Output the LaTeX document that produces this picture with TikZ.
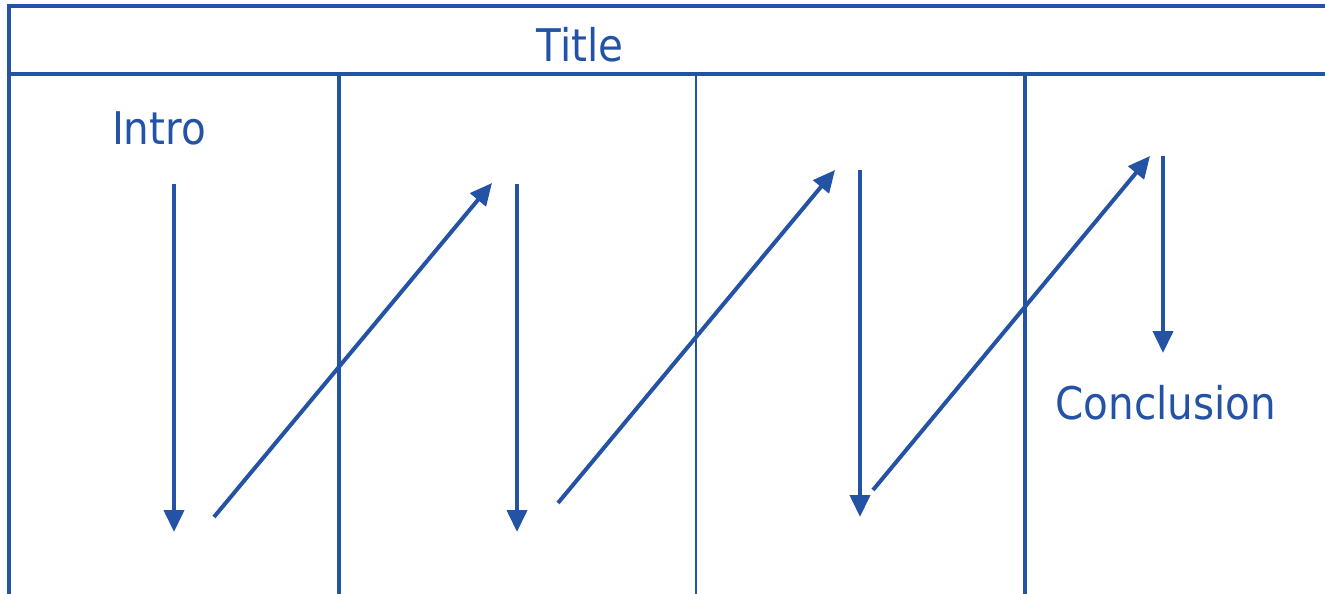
\documentclass[tikz,border=0pt]{standalone}
\usepackage{fontspec}
\setmainfont{DejaVu Sans Condensed}
\usetikzlibrary{arrows.meta}
\definecolor{tblue}{RGB}{36,82,164}
\begin{document}
\begin{tikzpicture}[x=1pt,y=-1pt,
  frame/.style={draw=tblue,line width=4pt},
  divider/.style={draw=tblue,line width=3.5pt},
  thin divider/.style={draw=tblue,line width=2.2pt},
  flow/.style={draw=tblue,line width=4pt,-{Triangle[width=20pt,length=22pt]}},
  label/.style={text=tblue,font=\fontsize{45}{54}\selectfont,inner sep=0pt}]
\useasboundingbox (0,0) rectangle (1325,594);
% frame
\coordinate (tl) at (8.5,6);
\coordinate (tr) at (1325,6);
\coordinate (bl) at (8.5,594);
\coordinate (sl) at (8.5,74);
\coordinate (sr) at (1325,74);
\draw[frame] (bl) -- (tl) -- (tr);
\draw[frame] (sl) -- (sr);
% dividers
\coordinate (d1t) at (339,74); \coordinate (d1b) at (339,594);
\coordinate (d2t) at (696,74); \coordinate (d2b) at (696,594);
\coordinate (d3t) at (1025,74); \coordinate (d3b) at (1025,594);
\draw[divider] (d1t) -- (d1b);
\draw[thin divider] (d2t) -- (d2b);
\draw[divider] (d3t) -- (d3b);
% labels
\node[label] (title) at (580,45) {Title};
\node[label] (intro) at (159,128) {Intro};
\node[label] (concl) at (1166,403) {Conclusion};
% arrows
\coordinate (a1s) at (174,184); \coordinate (a1e) at (174,532);
\coordinate (b1s) at (214,517); \coordinate (b1e) at (492,183);
\coordinate (a2s) at (517,184); \coordinate (a2e) at (517,532);
\coordinate (b2s) at (558,503); \coordinate (b2e) at (835,170);
\coordinate (a3s) at (860,170); \coordinate (a3e) at (860,517);
\coordinate (b3s) at (873,490); \coordinate (b3e) at (1150,156);
\coordinate (a4s) at (1163,156); \coordinate (a4e) at (1163,353);
\draw[flow] (a1s) -- (a1e);
\draw[flow] (b1s) -- (b1e);
\draw[flow] (a2s) -- (a2e);
\draw[flow] (b2s) -- (b2e);
\draw[flow] (a3s) -- (a3e);
\draw[flow] (b3s) -- (b3e);
\draw[flow] (a4s) -- (a4e);
\end{tikzpicture}
\end{document}
